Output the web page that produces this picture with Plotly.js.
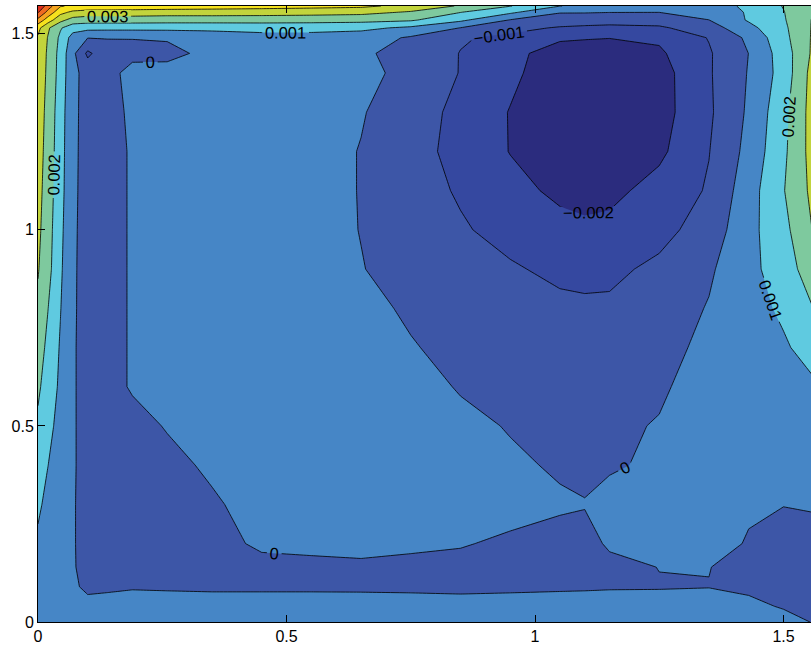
<!DOCTYPE html>
<html>
<head>
<meta charset="utf-8">
<script src="https://cdn.plot.ly/plotly-3.0.1.min.js"></script>
<style>
html, body { margin: 0; padding: 0; background: #ffffff; overflow: hidden; }
#chart { width: 811px; height: 650px; }
</style>
</head>
<body>
<div id="chart"></div>
<script>
// Grid coordinates (x across, y up)
const xGrid = [0, 0.02, 0.045, 0.07, 0.1, 0.14, 0.19, 0.26, 0.35, 0.45, 0.55, 0.65, 0.75, 0.85, 0.95, 1.05, 1.1, 1.15, 1.25, 1.35, 1.43, 1.5, 1.5708];
const yGrid = [0, 0.04, 0.09, 0.14, 0.2, 0.3, 0.4, 0.5, 0.6, 0.7, 0.8, 0.9, 1.0, 1.1, 1.2, 1.3, 1.4, 1.45, 1.49, 1.515, 1.535, 1.555, 1.5708];

// Field values, in units of 1e-4 (one row per y value)
const zTenThousandths = [
  [3, 3, 2.8, 2.6, 2.5, 2.5, 2.5, 2.5, 2.5, 2.5, 2.5, 2.5, 2.5, 2.5, 2.5, 2.5, 2.5, 2.5, 2.4, 2.2, 1.9, 1.5, -0.5],
  [4.2, 3.8, 3.2, 2.3, 1.5, 1.4, 1.6, 1.5, 1.4, 1.4, 1.4, 1.3, 1.2, 1.0, 1.2, 1.4, 1.5, 1.6, 1.9, 1.6, 1.0, -0.35, -0.8],
  [5.7, 4.6, 3.2, 0.8, -1, -0.6, -0.3, -0.4, -0.5, -0.5, -0.5, -0.5, -0.55, -0.6, -0.55, -0.45, -0.4, -0.3, -0.3, -0.1, -0.8, -1.5, -2],
  [7.0, 5.3, 3.3, 0.8, -3, -3, -2.5, -2.5, -2.5, -2, -2, -1.5, -2, -2, -2, -2, -2, -1.5, 0.1, 0.1, -1.5, -2, -2],
  [8.5, 6.0, 3.4, 0.8, -3.5, -3.5, -3.5, -3, -2.5, 1.2, 2.1, 2.6, 1.5, 0.5, -1.2, -2, -2, 0.8, 1.5, 1.5, -0.3, -1.5, -1],
  [11.5, 7.7, 4.0, 0.8, -3.5, -4, -4, -3.5, -1.2, 3.5, 4, 4, 4, 3.5, 2.55, 0.78, 0.3, 2, 2.5, 2.5, 0.5, 0.1, 0.3],
  [14.8, 10.1, 5.5, 1.0, -3.5, -3.8, -3.8, -2.5, 1.5, 3.5, 4, 4, 4, 3.5, 1, -0.72, -1.5, -0.7, 1.05, 2.5, 3, 4, 5],
  [18.3, 12.8, 6.7, 1.0, -3.5, -3.5, -3, 0.6, 3.5, 4, 4, 4, 4, 1.6, -0.4, -1.5, -2, -1.8, 0.6, 3, 4, 5, 7.5],
  [21.6, 15.6, 8.2, 1.0, -3.5, -3.2, 0.9, 3, 4, 4, 4, 4, 2.5, -0.5, -2.5, -3.5, -3.5, -3.5, -1.4, 4.4, 5.5, 7, 9.5],
  [24.8, 17.6, 9.1, 1.0, -3.5, -3.2, 0.9, 3, 4, 4, 4, 3.5, 0.6, -2.5, -4, -5, -5.2, -5, -3, 2.2, 6, 8.7, 15],
  [27.9, 20.2, 10.4, 1.2, -3.5, -3.2, 0.9, 3, 4, 4, 4, 2.5, -1.3, -4, -6.5, -8, -8.5, -8.5, -6, 0.7, 6, 11.8, 21.5],
  [30.7, 23.3, 11.6, 1.3, -3.5, -3.2, 0.9, 3, 4, 4, 3, 0.3, -3, -6, -9, -12, -12.5, -12, -8, -1.65, 8.5, 12.7, 31],
  [32.3, 24.2, 12.5, 1.5, -3.5, -3.2, 0.9, 3, 4, 4, 3, -0.2, -5, -9, -13, -17, -18, -17.5, -13, -5.7, 7, 17, 33],
  [33.4, 25.2, 13.5, 1.8, -3.5, -3.2, 0.9, 3, 4, 4, 3, -0.3, -6, -11, -17, -22, -23.5, -22.5, -16.5, -9, 5.7, 19.5, 35],
  [34.3, 26.2, 14, 2.0, -3.5, -3.2, 0.9, 3, 4, 4, 3, -0.3, -6.5, -13, -20.3, -25, -26.5, -26, -22, -10.3, 3, 18, 37],
  [35.2, 27, 14.5, 2.2, -3.5, -3.2, 1.6, 3, 4, 4, 3, 0.55, -4.5, -13.1, -20.4, -25.5, -27, -26.5, -24, -11.5, 1.5, 17, 37.5],
  [36.5, 28.1, 16, 2.5, -3.5, -3, 3, 2, 3, 4, 3.5, 2, -2.1, -10.4, -18, -25.5, -26.5, -26, -24, -11, 0.6, 14, 37.6],
  [37.5, 28.5, 16.5, 2.5, -12, -3, -2.5, -1.5, 1.5, 3.5, 3, 1.2, -2.8, -10.3, -17.5, -24, -24, -24, -21.5, -11, 0.1, 14.8, 35],
  [38.8, 29.5, 18, 6, 0.3, 0.3, 0.3, 0.5, 3.5, 6, 6, 4.5, -1.1, -9, -12.5, -18.7, -19.4, -19.8, -18.5, -9.5, 2, 17, 34],
  [43, 31.5, 21, 14, 13, 12.8, 12.8, 13, 13, 13.7, 13.5, 12.5, 8, -0.2, -6.8, -11, -12, -12.5, -11.5, -4.5, 7, 18, 33.5],
  [57, 45, 33, 26, 24.5, 24.5, 24.5, 24, 24, 23.8, 23.5, 23, 21.3, 12, -0.5, -4, -5, -6, -5.5, -0.1, 11, 19, 33],
  [71, 57, 43, 38, 36, 36, 35.7, 35, 35, 34.7, 34, 33, 29, 20.3, 12, 0.5, 0.55, 0.2, 0.1, 3.5, 11, 19.6, 32],
  [80, 65, 51, 48, 47.5, 47, 46.5, 46, 45, 44, 43, 42, 37, 29, 20.4, 10.2, 8, 6, 5, 7, 11.3, 20.5, 31]
];
const UNIT = 1e-4;

// Contour levels and band colours (lowest band first)
const levelStart = -0.002;
const levelEnd = 0.007;
const levelStep = 0.001;
const bandColors = ['#2b2c7e', '#3548a0', '#3d56a7', '#4686c6', '#5fcae0', '#7ec99e', '#c2d43c', '#f6e21e', '#f6a420', '#ef6a22', '#dd2e1e'];

const xTicks = [0, 0.5, 1, 1.5];
const yTicks = [0, 0.5, 1, 1.5];

const zValues = zTenThousandths.map(row => row.map(v => v * UNIT));
const colorscale = bandColors.map((c, i) => [i / (bandColors.length - 1), c]);

const trace = {
  type: 'contour',
  x: xGrid,
  y: yGrid,
  z: zValues,
  autocontour: false,
  contours: {
    start: levelStart,
    end: levelEnd,
    size: levelStep,
    coloring: 'fill',
    showlabels: true,
    labelformat: '.3~f',
    labelfont: { family: 'Liberation Sans, Arial, sans-serif', size: 16.5, color: '#000000' }
  },
  line: { color: '#000000', width: 0.8, smoothing: 0 },
  colorscale: colorscale,
  showscale: false,
  hoverinfo: 'skip'
};

const axisFont = { family: 'Liberation Sans, Arial, sans-serif', size: 16, color: '#000000' };

const layout = {
  width: 811,
  height: 650,
  margin: { l: 38, r: 0, t: 6, b: 28, pad: 0 },
  paper_bgcolor: '#ffffff',
  plot_bgcolor: '#ffffff',
  showlegend: false,
  xaxis: {
    range: [0, 1.5553],
    tickvals: xTicks,
    ticktext: xTicks.map(String),
    ticks: 'inside',
    ticklen: 7,
    tickwidth: 1,
    tickcolor: '#000000',
    showline: true,
    linecolor: '#000000',
    linewidth: 1,
    mirror: 'ticks',
    showgrid: false,
    zeroline: false,
    tickfont: axisFont
  },
  yaxis: {
    range: [0, 1.5708],
    tickvals: yTicks,
    ticktext: yTicks.map(String),
    ticks: 'inside',
    ticklen: 7,
    tickwidth: 1,
    tickcolor: '#000000',
    showline: true,
    linecolor: '#000000',
    linewidth: 1,
    mirror: false,
    showgrid: false,
    zeroline: false,
    tickfont: axisFont
  }
};

Plotly.newPlot('chart', [trace], layout, { staticPlot: true, displayModeBar: false });
</script>
</body>
</html>
